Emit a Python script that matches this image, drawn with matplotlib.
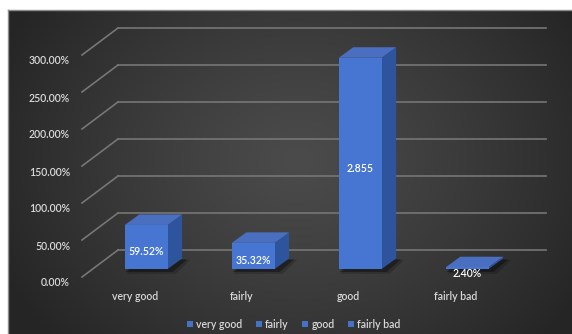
import numpy as np
import matplotlib
matplotlib.use('Agg')
import matplotlib.pyplot as plt
from matplotlib.patches import Polygon, Patch
from matplotlib.lines import Line2D
from matplotlib.transforms import ScaledTranslation, blended_transform_factory

plt.rcParams['font.family'] = ['Lato', 'DejaVu Sans']
plt.rcParams['font.weight'] = 600

# ---- data ----
categories = ['very good', 'fairly', 'good', 'fairly bad']
values = [0.5952, 0.3532, 2.855, 0.024]
value_labels = ['59.52%', '35.32%', '2.855', '2.40%']
ytick_values = [0.0, 0.5, 1.0, 1.5, 2.0, 2.5, 3.0]
ytick_labels = ['0.00%', '50.00%', '100.00%', '150.00%', '200.00%', '250.00%', '300.00%']

# ---- style ----
W, H, DPI = 572, 334, 100
FRONT = '#4676d2'
SIDE = '#2f549e'
TOP = '#4a6fc0'
GRID = '#767676'
TXT = '#d9d9d9'
FS = 7.6

fig = plt.figure(figsize=(W / DPI, H / DPI), dpi=DPI)
fig.patch.set_facecolor('white')

# background with radial gradient
bg = fig.add_axes([8 / W, 0, 1 - 8 / W, (H - 10) / H])
bg.set_axis_off()
nx, ny = W - 8, H - 10
xx, yy = np.meshgrid(np.arange(nx), np.arange(ny))
r = np.sqrt(((xx - 290) / 330) ** 2 + ((yy - 150) / 270) ** 2)
g = (0x4b - (0x4b - 0x25) * np.clip(r, 0, 1) ** 1.2) / 255.0
bg.imshow(np.dstack([g, g, g]), aspect='auto', interpolation='bilinear')
fig.add_artist(Line2D([8 / W, 1], [(H - 10) / H, (H - 10) / H], color='#8c8c8c', lw=1.0))
fig.add_artist(Line2D([8 / W, 8 / W], [0, (H - 10) / H], color='#8c8c8c', lw=1.0))

# main axes = plane of the bar fronts
ax = fig.add_axes([92.7 / W, 65 / H, 428 / W, 236.8 / H])
ax.set_xlim(-0.5, 3.5)
ax.set_ylim(0, 3.2)
ax.set_axis_off()
ax.patch.set_alpha(0)


def off(base, dx, dy):
    return base + ScaledTranslation(dx / DPI, dy / DPI, fig.dpi_scale_trans)


blend = blended_transform_factory(ax.transAxes, ax.transData)
BACK = (25.3, 19.0)
FRONTW = (-10.7, -8.0)

# gridlines (back wall + left wall diagonals)
for v in ytick_values:
    ax.plot([0, 1], [v, v], color=GRID, lw=1.2, transform=off(blend, *BACK),
            clip_on=False, zorder=1)
    p0 = off(blend, *FRONTW).transform((0, v))
    p1 = off(blend, *BACK).transform((0, v))
    pts = fig.transFigure.inverted().transform([p0, p1])
    fig.add_artist(Line2D(pts[:, 0], pts[:, 1], color=GRID, lw=1.2, zorder=1))

for v, lab in zip(ytick_values, ytick_labels):
    ax.text(0, v, lab, transform=off(blend, -22.7, -14), ha='right', va='center',
            fontsize=FS, color=TXT, clip_on=False)

# bars
x = np.arange(len(categories))
w = 0.4
d0 = ax.transData.transform((0, 0))
d1 = ax.transData.transform((1, 1))
ddx = 14.5 / (d1[0] - d0[0])
ddy = 10.5 / (d1[1] - d0[1])
sdx = 5 / (d1[0] - d0[0])
sdy = 3 / (d1[1] - d0[1])

for c, v in zip(x, values):
    # shadow
    for k, a in [(1.6, 0.18), (1.0, 0.35)]:
        sh = [(c - w / 2 + sdx * k * 0.2, -sdy * k), (c + w / 2 + sdx * k, -sdy * k),
              (c + w / 2 + ddx + sdx * k, ddy - sdy * k * 0.3), (c - w / 2 + ddx, ddy)]
        ax.add_patch(Polygon(sh, closed=True, facecolor='black', edgecolor='none',
                             alpha=a, zorder=2, clip_on=False))
    side = [(c + w / 2, 0), (c + w / 2 + ddx, ddy), (c + w / 2 + ddx, v + ddy), (c + w / 2, v)]
    top = [(c - w / 2, v), (c + w / 2, v), (c + w / 2 + ddx, v + ddy), (c - w / 2 + ddx, v + ddy)]
    ax.add_patch(Polygon(side, closed=True, facecolor=SIDE, edgecolor='none', zorder=3,
                         clip_on=False))
    ax.add_patch(Polygon(top, closed=True, facecolor=TOP, edgecolor='none', zorder=3,
                         clip_on=False))

ax.bar(x, values, width=w, color=FRONT, zorder=4, clip_on=False)

for c, v, lab in zip(x, values, value_labels):
    ax.text(c, v / 2, lab, transform=off(ax.transData, 0, -5), ha='center', va='center',
            fontsize=FS, color='white', zorder=6, clip_on=False)

for c, cat in zip(x, categories):
    ax.text(c, 0, cat, transform=off(ax.transData, -11.5, -28), ha='center', va='center',
            fontsize=FS, color=TXT, clip_on=False)

handles = [Patch(facecolor='#4472c4', edgecolor='none', label=cat) for cat in categories]
fig.legend(handles=handles, loc='center', bbox_to_anchor=(294 / W, 1 - 324 / H), ncol=4,
           frameon=False, fontsize=FS, handlelength=0.55, handleheight=0.55,
           handletextpad=0.3, columnspacing=1.3, labelcolor=TXT, borderaxespad=0)

fig.savefig('out.png', dpi=DPI, facecolor=fig.get_facecolor())
